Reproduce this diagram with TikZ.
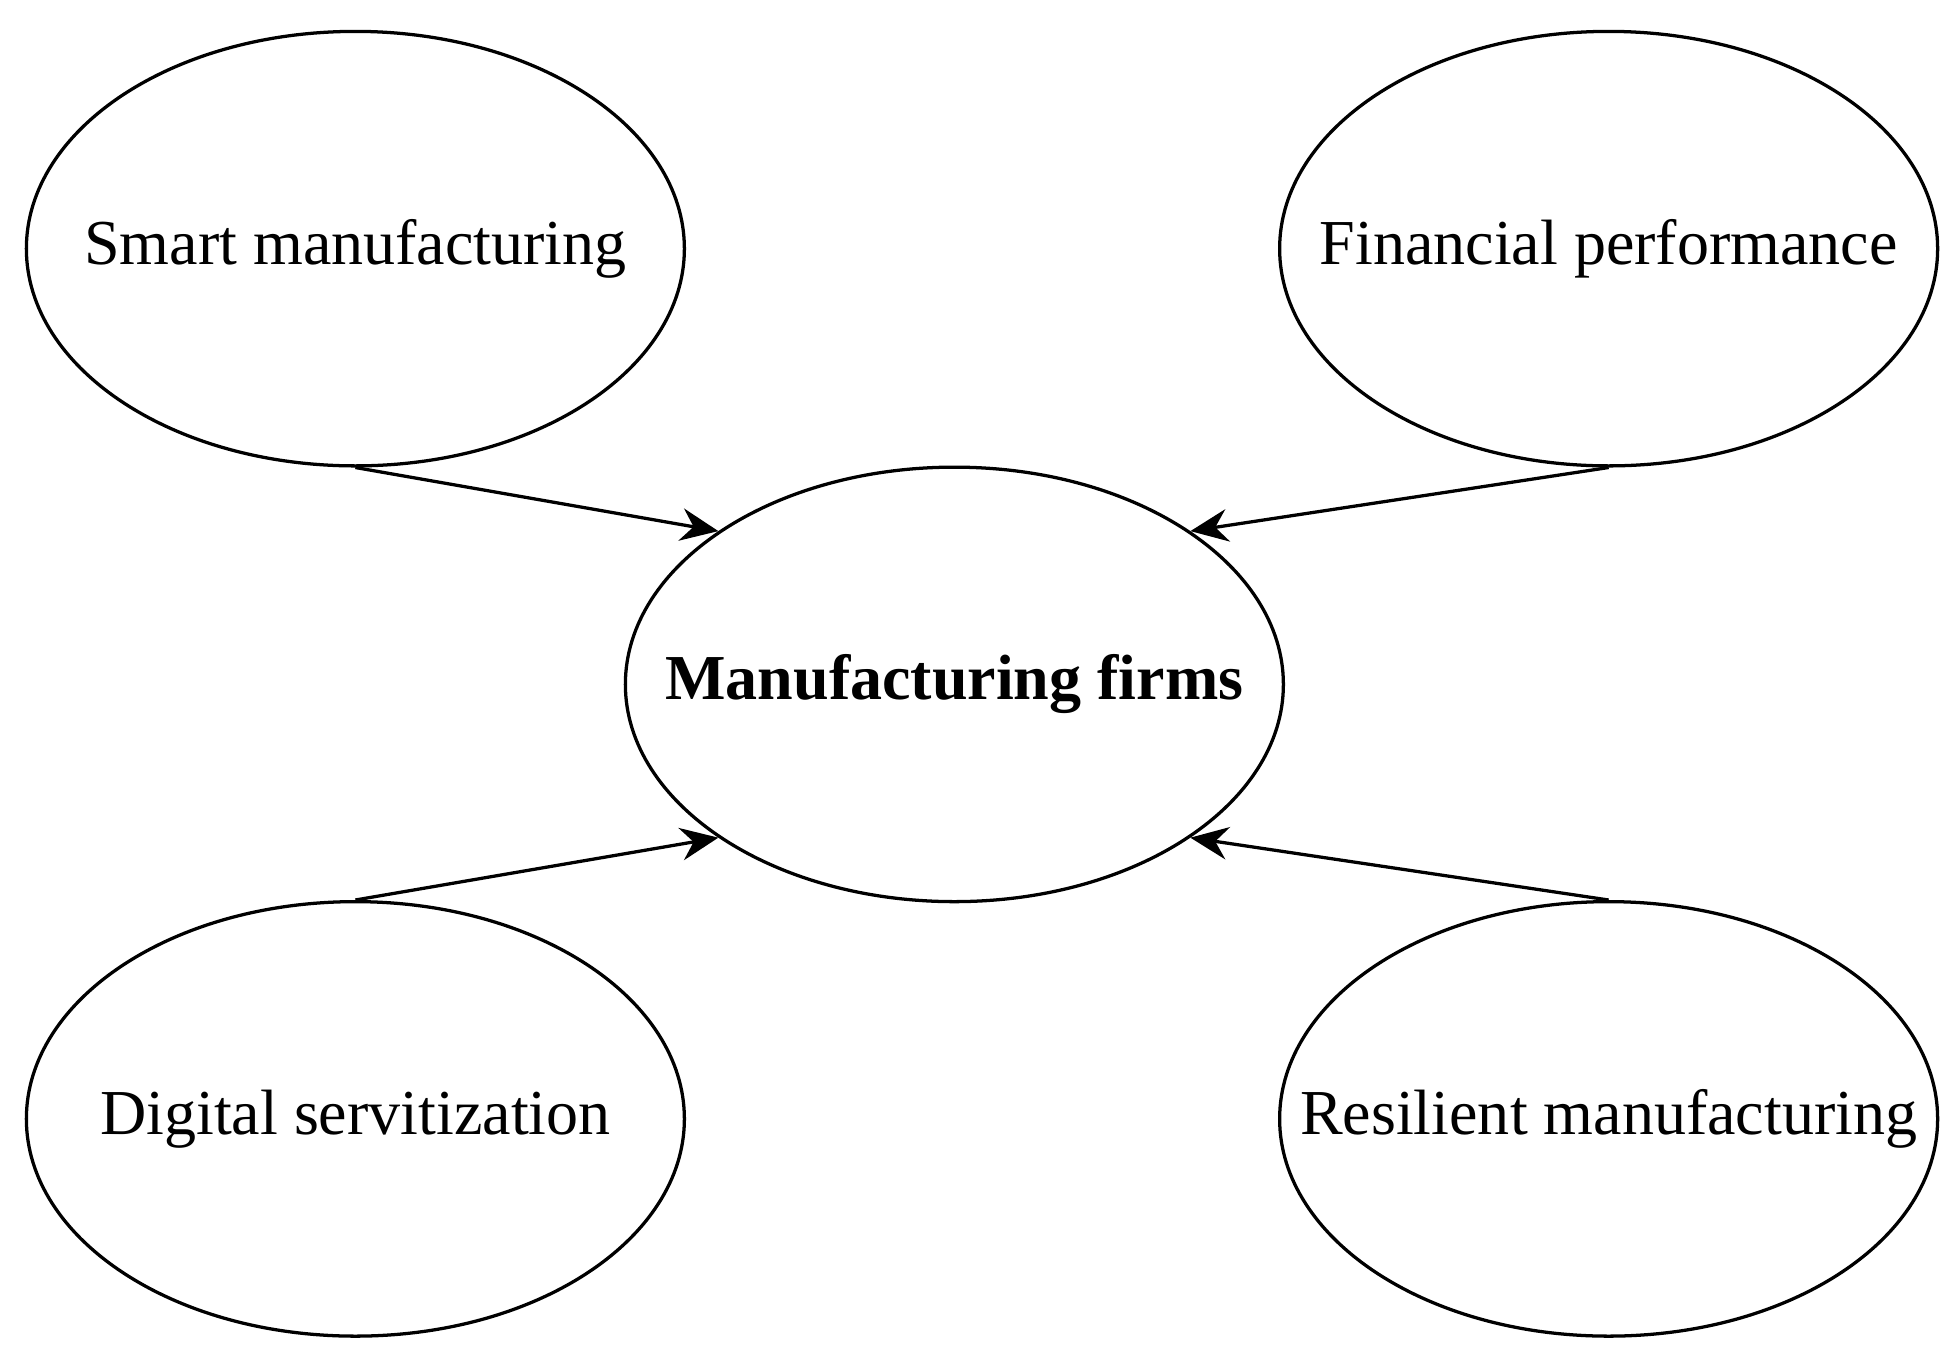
\documentclass[tikz,border=0pt]{standalone}
\usepackage{fontspec}
\setmainfont{Liberation Serif}
\usetikzlibrary{shapes.geometric,arrows.meta}
\newcommand{\zb}[1]{\makebox[0pt]{#1}}
\begin{document}
\begin{tikzpicture}[x=0.5pt,y=-0.5pt,
  ell/.style={ellipse,draw,line width=1.3pt,minimum width=262pt,minimum height=173pt,inner sep=0pt,font=\fontsize{25.5}{30}\selectfont},
  arr/.style={line width=1.3pt,-{Stealth[length=15pt,width=13pt,inset=5pt]}}]
\useasboundingbox (0,0) rectangle (1560,1085);
\node[ell] (s) at (283,198) {\zb{Smart manufacturing}};
\node[ell] (f) at (1281,198) {\zb{Financial performance}};
\node[ell,font=\fontsize{25.5}{30}\selectfont\bfseries] (m) at (760,545) {\zb{Manufacturing firms}};
\node[ell] (d) at (283,891) {\zb{Digital servitization}};
\node[ell] (r) at (1281,891) {\zb{Resilient manufacturing}};
\draw[arr] (s.south) -- (m.147);
\draw[arr] (f.south) -- (m.33);
\draw[arr] (d.north) -- (m.213);
\draw[arr] (r.north) -- (m.-33);
\end{tikzpicture}
\end{document}
